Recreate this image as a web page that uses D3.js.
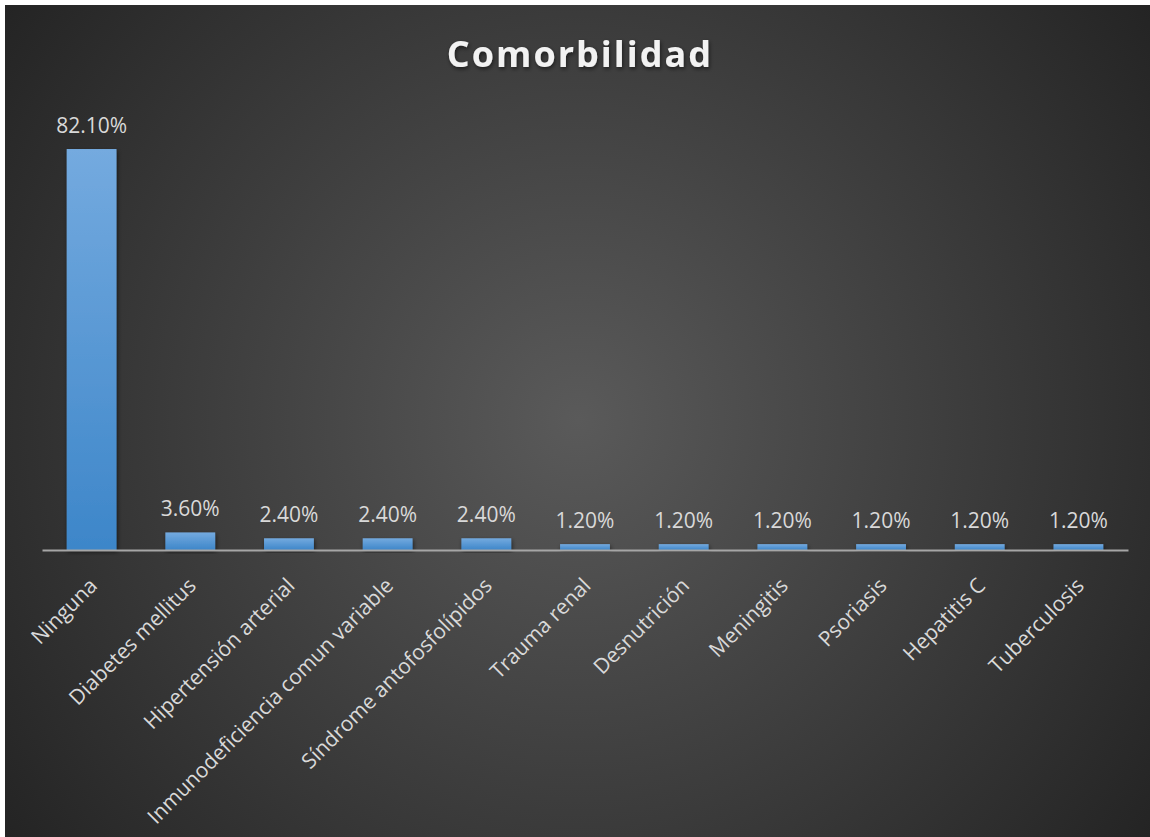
<!DOCTYPE html>
<html>
<head>
<meta charset="utf-8">
<script src="https://cdn.jsdelivr.net/npm/d3@7"></script>
<style>
  body { margin: 0; background: #fff; }
  svg { display: block; }
</style>
</head>
<body>
<div id="chart"></div>
<script>
var categories = ["Ninguna", "Diabetes mellitus", "Hipertensión arterial",
    "Inmunodeficiencia comun variable", "Síndrome antofosfolípidos", "Trauma renal",
    "Desnutrición", "Meningitis", "Psoriasis", "Hepatitis C", "Tuberculosis"];
var values = [82.1, 3.6, 2.4, 2.4, 2.4, 1.2, 1.2, 1.2, 1.2, 1.2, 1.2];
var title = "Comorbilidad";

var W = 1150, H = 837;
var margin = {top: 110, right: 22, bottom: 287, left: 42};

var svg = d3.select("#chart").append("svg")
    .attr("width", W)
    .attr("height", H);

var defs = svg.append("defs");

// background
var bg = defs.append("radialGradient")
    .attr("id", "bg")
    .attr("gradientUnits", "userSpaceOnUse")
    .attr("cx", 578).attr("cy", 420).attr("r", 720);
bg.append("stop").attr("offset", "0%").attr("stop-color", "#5a5a5a");
bg.append("stop").attr("offset", "100%").attr("stop-color", "#232323");

var barGrad = defs.append("linearGradient")
    .attr("id", "barGrad")
    .attr("x1", 0).attr("y1", 0).attr("x2", 0).attr("y2", 1);
barGrad.append("stop").attr("offset", "0%").attr("stop-color", "#74aadf");
barGrad.append("stop").attr("offset", "100%").attr("stop-color", "#3d86c9");

var shadow = defs.append("filter").attr("id", "shadow")
    .attr("x", "-20%").attr("y", "-20%").attr("width", "140%").attr("height", "140%");
shadow.append("feDropShadow")
    .attr("dx", 1).attr("dy", 2).attr("stdDeviation", 2)
    .attr("flood-color", "#000").attr("flood-opacity", 0.55);

svg.append("rect")
    .attr("x", 5).attr("y", 5)
    .attr("width", W - 5).attr("height", H - 5)
    .attr("fill", "url(#bg)");

var width = W - margin.left - margin.right,
    height = H - margin.top - margin.bottom;

var g = svg.append("g")
    .attr("transform", "translate(" + margin.left + "," + margin.top + ")");

var x = d3.scaleBand()
    .domain(categories)
    .range([0, width])
    .paddingInner(0.495)
    .paddingOuter(0.25);

var y = d3.scaleLinear()
    .domain([0, 90])
    .range([height, height - 90 * 4.884]);

// title
svg.append("text")
    .attr("x", 580)
    .attr("y", 67)
    .attr("text-anchor", "middle")
    .attr("font-family", "'Open Sans', sans-serif")
    .attr("font-weight", "bold")
    .attr("font-size", 36)
    .attr("letter-spacing", 2)
    .attr("fill", "#f2f2f2")
    .attr("filter", "url(#shadow)")
    .text(title);

// bars
g.selectAll("rect.bar")
    .data(values)
    .enter().append("rect")
    .attr("class", "bar")
    .attr("x", function (d, i) { return x(categories[i]); })
    .attr("y", function (d) { return y(d); })
    .attr("width", x.bandwidth())
    .attr("height", function (d) { return y(0) - y(d); })
    .attr("fill", "url(#barGrad)")
    .attr("filter", "url(#shadow)");

// value labels
g.selectAll("text.val")
    .data(values)
    .enter().append("text")
    .attr("class", "val")
    .attr("x", function (d, i) { return x(categories[i]) + x.bandwidth() / 2; })
    .attr("y", function (d) { return y(d) - 16; })
    .attr("text-anchor", "middle")
    .attr("font-family", "'Open Sans', sans-serif")
    .attr("font-size", 21)
    .attr("fill", "#d9d9d9")
    .text(function (d) { return d.toFixed(2) + "%"; });

// x axis
var xAxis = g.append("g")
    .attr("transform", "translate(0," + height + ")")
    .call(d3.axisBottom(x).tickSize(0).tickPadding(0));

xAxis.select(".domain")
    .attr("stroke", "#a6a6a6")
    .attr("stroke-width", 2);

xAxis.selectAll(".tick text")
    .attr("font-family", "'Open Sans', sans-serif")
    .attr("font-size", 21)
    .attr("fill", "#d9d9d9")
    .attr("text-anchor", "end")
    .attr("dy", 0)
    .attr("y", 0)
    .attr("transform", "translate(7,37) rotate(-45)");
</script>
</body>
</html>
